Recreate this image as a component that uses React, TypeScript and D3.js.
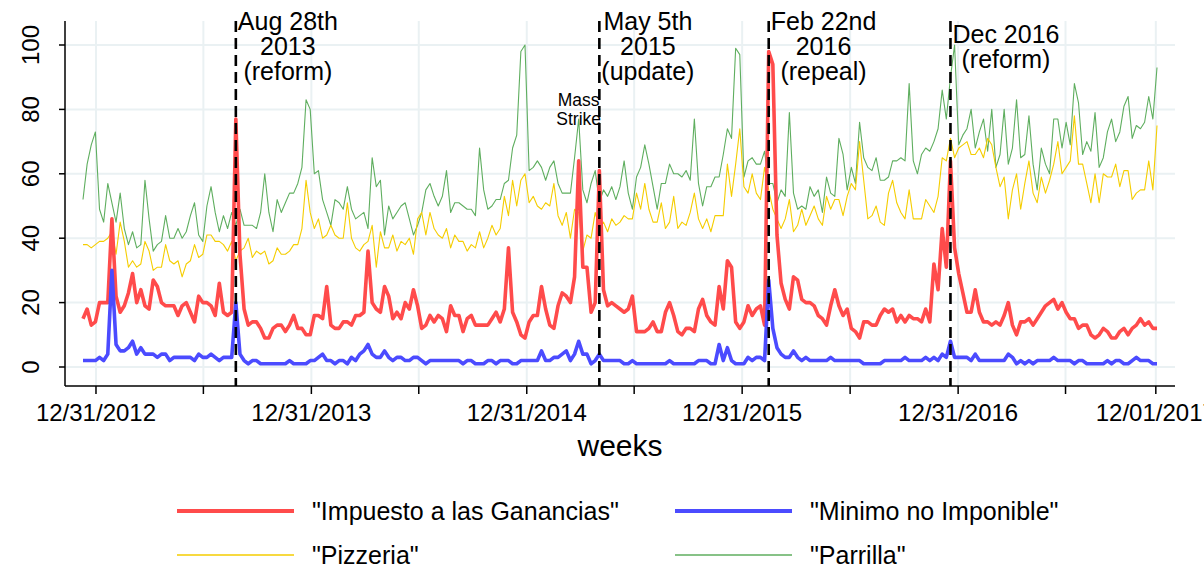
import { line, scaleLinear, scaleUtc, utcWeek } from 'd3';

// weekly Google Trends index, week starting Sunday Dec 9 2012
const weeks = utcWeek.range(new Date(Date.UTC(2012, 11, 9)), new Date(Date.UTC(2017, 11, 4)));

const impuesto = [
  15, 18, 13, 14, 20, 20, 20, 46, 22, 17, 19, 23, 29, 20, 24, 19, 18, 27, 25, 20, 19, 19, 19, 16, 19, 20, 17, 14, 22, 20,
  20, 19, 16, 26, 17, 16, 17, 77, 35, 18, 13, 14, 14, 12, 9, 9, 12, 13, 13, 11, 13, 16, 12, 12, 10, 10, 16, 16, 15, 25, 13, 12, 12, 14,
  14, 13, 16, 16, 17, 36, 20, 18, 17, 25, 22, 15, 17, 15, 20, 18, 24, 19, 12, 13, 16, 14, 16, 15, 11, 19, 16, 16, 11, 15, 16, 13, 13, 13,
  13, 15, 17, 14, 18, 37, 17, 14, 10, 9, 14, 16, 16, 25, 18, 13, 12, 19, 23, 22, 20, 28, 64, 31, 31, 17, 20, 61, 24, 19, 20, 19, 18, 17,
  18, 22, 11, 11, 11, 12, 14, 11, 11, 17, 20, 16, 11, 10, 12, 12, 11, 18, 21, 16, 14, 13, 25, 18, 33, 31, 14, 12, 14, 19, 16, 18, 19, 13,
  98, 94, 41, 26, 21, 18, 28, 27, 21, 20, 20, 19, 16, 15, 13, 19, 24, 19, 16, 18, 12, 11, 9, 14, 14, 13, 13, 16, 18, 17, 18, 14, 16, 14,
  16, 15, 15, 14, 18, 14, 32, 24, 43, 31, 64, 37, 29, 23, 17, 17, 24, 17, 14, 14, 13, 14, 13, 16, 20, 13, 10, 14, 14, 15, 13, 15,
  17, 19, 20, 21, 18, 20, 17, 15, 15, 12, 13, 13, 10, 9, 10, 12, 11, 9, 9, 11, 12, 10, 12, 13, 15, 13, 14, 12, 12
];

const minimo = [
  2, 2, 2, 2, 3, 2, 4, 30, 7, 5, 5, 6, 8, 4, 6, 4, 4, 4, 3, 4, 4, 2, 3, 3, 3, 3, 3, 2, 4, 3,
  3, 4, 3, 2, 3, 3, 3, 20, 4, 2, 1, 2, 2, 1, 1, 1, 1, 1, 1, 1, 2, 1, 1, 1, 1, 2, 2, 3, 4, 2, 2, 1, 2, 2,
  1, 3, 2, 4, 5, 7, 4, 3, 3, 5, 3, 2, 3, 3, 2, 2, 3, 3, 2, 1, 2, 2, 2, 2, 2, 2, 2, 2, 1, 2, 2, 1, 1, 1,
  2, 2, 1, 2, 2, 2, 1, 1, 2, 2, 2, 2, 2, 5, 2, 2, 3, 3, 4, 5, 2, 4, 8, 4, 4, 1, 2, 4, 2, 2, 2, 2, 2, 1,
  1, 2, 1, 1, 1, 1, 1, 1, 1, 1, 2, 1, 1, 1, 1, 1, 1, 2, 2, 2, 1, 1, 7, 2, 6, 2, 1, 1, 1, 3, 2, 3, 3, 2,
  27, 12, 6, 4, 3, 3, 5, 3, 2, 3, 2, 2, 2, 2, 2, 3, 2, 2, 2, 2, 2, 2, 2, 1, 1, 1, 1, 1, 2, 2, 2, 2, 2, 3,
  2, 2, 2, 2, 3, 2, 3, 2, 4, 3, 8, 3, 3, 3, 3, 2, 4, 2, 2, 2, 2, 2, 2, 2, 4, 3, 1, 2, 1, 2, 1, 2,
  2, 2, 2, 3, 2, 2, 2, 2, 1, 2, 2, 1, 1, 1, 1, 1, 2, 1, 2, 2, 1, 1, 2, 3, 2, 2, 2, 1, 1
];

const pizzeria = [
  38, 38, 37, 38, 39, 39, 40, 42, 35, 45, 39, 31, 33, 31, 32, 39, 36, 30, 31, 31, 38, 33, 32, 33, 28, 32, 33, 38, 34, 35,
  41, 41, 39, 39, 38, 36, 39, 33, 36, 37, 40, 34, 36, 35, 36, 32, 33, 37, 35, 35, 36, 38, 38, 43, 58, 48, 43, 46, 40, 41, 44, 41, 40, 40,
  51, 40, 37, 36, 38, 39, 44, 31, 42, 37, 37, 41, 36, 39, 38, 40, 35, 46, 48, 41, 48, 43, 41, 40, 43, 37, 41, 39, 39, 36, 38, 37, 42, 37,
  40, 44, 41, 43, 53, 47, 58, 50, 58, 60, 51, 53, 50, 49, 51, 50, 57, 47, 44, 48, 40, 49, 48, 36, 41, 40, 48, 43, 45, 42, 46, 44, 45, 47,
  46, 46, 54, 49, 57, 49, 45, 45, 51, 43, 45, 53, 43, 45, 44, 48, 54, 46, 43, 46, 42, 47, 47, 47, 63, 53, 63, 74, 56, 54, 60, 54, 52, 62,
  55, 49, 46, 43, 46, 52, 42, 44, 49, 44, 47, 50, 46, 44, 53, 49, 52, 52, 47, 53, 57, 55, 70, 58, 46, 47, 50, 45, 44, 54, 58, 51, 48, 46,
  55, 46, 46, 46, 52, 50, 48, 53, 65, 64, 71, 65, 68, 69, 70, 66, 66, 68, 65, 71, 69, 62, 56, 59, 46, 55, 60, 49, 57, 64, 54, 51,
  59, 54, 58, 63, 70, 60, 62, 64, 78, 63, 63, 57, 51, 60, 51, 60, 59, 59, 63, 56, 61, 61, 52, 54, 55, 55, 64, 55, 75
];

const parrilla = [
  52, 63, 69, 73, 49, 45, 57, 51, 45, 54, 43, 38, 42, 37, 38, 58, 46, 36, 38, 39, 47, 40, 40, 43, 40, 42, 47, 51, 41, 39,
  50, 56, 48, 42, 47, 43, 48, 44, 49, 44, 44, 44, 43, 48, 60, 48, 42, 52, 48, 51, 54, 54, 57, 62, 83, 80, 60, 61, 52, 48, 44, 52, 51, 49,
  56, 49, 46, 47, 48, 43, 65, 56, 58, 41, 50, 46, 48, 50, 51, 46, 41, 44, 48, 55, 57, 53, 50, 53, 61, 48, 51, 51, 50, 49, 49, 47, 68, 55,
  49, 50, 52, 52, 57, 58, 68, 72, 98, 100, 61, 62, 64, 62, 58, 62, 64, 57, 54, 54, 54, 65, 77, 55, 51, 57, 61, 51, 55, 53, 56, 52, 56, 64,
  54, 49, 59, 62, 69, 63, 56, 49, 57, 57, 63, 60, 60, 59, 61, 58, 77, 57, 50, 56, 56, 59, 59, 66, 74, 71, 99, 97, 59, 64, 65, 63, 63, 67,
  57, 57, 51, 55, 53, 79, 54, 49, 50, 49, 56, 53, 55, 48, 59, 54, 53, 71, 66, 55, 62, 57, 76, 65, 62, 61, 65, 58, 58, 59, 64, 64, 65, 64,
  88, 64, 60, 66, 68, 67, 70, 74, 86, 77, 90, 100, 69, 72, 74, 80, 68, 73, 77, 67, 80, 62, 66, 80, 63, 68, 83, 65, 66, 78, 63, 55,
  68, 63, 60, 77, 77, 68, 76, 69, 88, 82, 66, 70, 67, 79, 62, 65, 73, 77, 70, 73, 81, 84, 71, 75, 74, 76, 84, 77, 93
];

const seriesNames = ['"Impuesto a las Ganancias"', '"Minimo no Imponible"', '"Pizzeria"', '"Parrilla"'];
const seriesColors = ['#ff4b4b', '#4b4bff', '#f5cd00', '#5fae5f'];
const seriesWidths = [3.6, 3.6, 1.1, 1.1];

const xTickDates = [
  '2012-12-31', '2013-07-01', '2013-12-31', '2014-07-01', '2014-12-31', '2015-07-01',
  '2015-12-31', '2016-07-01', '2016-12-31', '2017-07-01', '2017-12-01'
];
const xTickLabels = ['12/31/2012', '', '12/31/2013', '', '12/31/2014', '', '12/31/2015', '', '12/31/2016', '', '12/01/2017'];
const yTicks = [0, 20, 40, 60, 80, 100];

// policy events (week of) and their notes
const eventDates = ['2013-08-25', '2015-05-03', '2016-02-14', '2016-12-18'];
const eventLabels = [
  ['Aug 28th', '2013', '(reform)'],
  ['May 5th', '2015', '(update)'],
  ['Feb 22nd', '2016', '(repeal)'],
  ['Dec 2016', '(reform)']
];
const strikeDate = '2015-03-29';

const W = 1204;
const H = 570;
const left = 65;
const right = 1175;
const top = 21;
const bottom = 386;
const font = '"Liberation Sans", Arial, sans-serif';
const noteSize = 25;

// width of the widest note line, so the block sits just right of its dashed line
const measure = (t: string): number => {
  const ctx = document.createElement('canvas').getContext('2d');
  if (!ctx) return t.length * noteSize * 0.5;
  ctx.font = `${noteSize}px ${font}`;
  return ctx.measureText(t).width;
};

const utc = (d: string): Date => new Date(d + 'T00:00:00Z');

function App(): JSX.Element {
  const x = scaleUtc()
    .domain([weeks[0], weeks[weeks.length - 1]])
    .range([83, 1157]);
  const y = scaleLinear().domain([0, 100]).range([367, 45]);

  const lineGen = line<number>()
    .x((_d, i) => x(weeks[i]))
    .y((d) => y(d));

  const allSeries = [impuesto, minimo, pizzeria, parrilla];
  const drawOrder = [3, 2, 0, 1];
  const tickX = xTickDates.map((d) => x(utc(d)));
  const sx = x(utc(strikeDate));

  return (
    <div style={{ position: 'absolute', left: 0, top: 0 }}>
      <svg width={W} height={H} style={{ display: 'block', background: '#fff' }} fontFamily={font}>
        {/* grid */}
        {yTicks.map((t) => (
          <line key={'gy' + t} x1={left} x2={right} y1={y(t)} y2={y(t)} stroke="#eaf1f3" strokeWidth={2} />
        ))}
        {tickX.map((tx, i) => (
          <line key={'gx' + i} x1={tx} x2={tx} y1={top} y2={bottom} stroke="#eaf1f3" strokeWidth={2} />
        ))}

        {/* series */}
        {drawOrder.map((s) => (
          <path
            key={'s' + s}
            d={lineGen(allSeries[s]) || ''}
            fill="none"
            stroke={seriesColors[s]}
            strokeWidth={seriesWidths[s]}
            strokeLinejoin="round"
          />
        ))}

        {/* event lines */}
        {eventDates.map((d, i) => {
          const ex = x(utc(d));
          const lines = eventLabels[i];
          const wMax = Math.max(...lines.map(measure));
          const cx = ex + 2 + wMax / 2;
          const y0 = 30 + (3 - lines.length) * 12.5;
          return (
            <g key={'ev' + i}>
              <line x1={ex} x2={ex} y1={top} y2={bottom} stroke="#000" strokeWidth={2.6} strokeDasharray="11 6" />
              {lines.map((t, j) => (
                <text key={j} x={cx} y={y0 + j * 25} textAnchor="middle" fontSize={noteSize} fill="#000">
                  {t}
                </text>
              ))}
            </g>
          );
        })}
        <text x={sx} y={106} textAnchor="middle" fontSize={17.5}>
          Mass
        </text>
        <text x={sx} y={125} textAnchor="middle" fontSize={17.5}>
          Strike
        </text>

        {/* axes */}
        <line x1={left} x2={left} y1={top} y2={bottom} stroke="#000" strokeWidth={1.5} />
        <line x1={left} x2={right} y1={bottom} y2={bottom} stroke="#000" strokeWidth={1.5} />
        {yTicks.map((t) => (
          <g key={'yt' + t}>
            <line x1={left - 6} x2={left} y1={y(t)} y2={y(t)} stroke="#000" strokeWidth={1.5} />
            <text transform={`translate(39,${y(t)}) rotate(-90)`} textAnchor="middle" fontSize={24}>
              {t}
            </text>
          </g>
        ))}
        {tickX.map((tx, i) => (
          <g key={'xt' + i}>
            <line x1={tx} x2={tx} y1={bottom} y2={bottom + 8} stroke="#000" strokeWidth={1.5} />
            <text x={tx} y={421} textAnchor="middle" fontSize={24}>
              {xTickLabels[i]}
            </text>
          </g>
        ))}
        <text x={(left + right) / 2} y={456} textAnchor="middle" fontSize={30}>
          weeks
        </text>

        {/* legend */}
        {seriesNames.map((name, i) => {
          const lx = i % 2 === 0 ? 177 : 675;
          const ly = i < 2 ? 511 : 555;
          return (
            <g key={'lg' + i}>
              <line x1={lx} x2={lx + 117} y1={ly} y2={ly} stroke={seriesColors[i]} strokeWidth={seriesWidths[i] + 0.4} />
              <text x={lx + 135} y={ly + 9} fontSize={25}>
                {name}
              </text>
            </g>
          );
        })}
      </svg>
    </div>
  );
}

export default App;
